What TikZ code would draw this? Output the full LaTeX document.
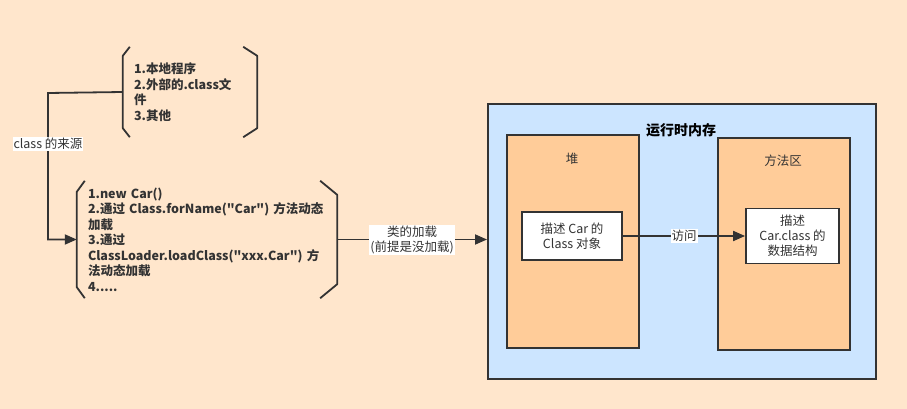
\documentclass[tikz,border=0pt]{standalone}
\usepackage{fontspec}
\setmainfont{Noto Sans CJK SC}[Ligatures=TeXOff]
\usetikzlibrary{arrows.meta}
\definecolor{bgpeach}{HTML}{FFE6CC}
\definecolor{memblue}{HTML}{CCE5FF}
\definecolor{areaor}{HTML}{FFCC99}
\definecolor{ink}{HTML}{333333}
\tikzset{
  brace/.style={inner xsep=11pt, inner ysep=0pt, align=left, anchor=center, font=\fontsize{12.5}{15.5}\selectfont\bfseries, text=ink},
  region/.style={draw=ink, line width=1.8pt},
  whitebox/.style={draw=ink, line width=1.8pt, fill=white, align=center, font=\fontsize{12.5}{15}\selectfont, text=ink},
  conn/.style={draw=ink, line width=1.8pt, -{Triangle[length=12pt,width=10pt]}},
  lbl/.style={fill=white, inner sep=1pt, font=\fontsize{12.5}{15}\selectfont, text=ink, align=center},
  bracket/.style={draw=ink, line width=1.8pt, line join=round},
}
\begin{document}
\begin{tikzpicture}[x=1pt,y=-1pt]
\fill[bgpeach] (0,0) rectangle (907,409);
\useasboundingbox (0,0) rectangle (907,409);
% memory region
\node[region, fill=memblue, minimum width=388pt, minimum height=275pt, anchor=north west, inner sep=0pt] (mem) at (487,103) {};
\node[font=\fontsize{14}{16}\selectfont\bfseries, text=black] (memt) at (681,130) {运行时内存};
\node[region, fill=areaor, minimum width=132pt, minimum height=213pt, anchor=north west, inner sep=0pt] (heap) at (506,134) {};
\node[font=\fontsize{12.5}{15}\selectfont, text=ink] (heapt) at (572,159) {堆};
\node[region, fill=areaor, minimum width=132pt, minimum height=212pt, anchor=north west, inner sep=0pt] (meth) at (717,137) {};
\node[font=\fontsize{12.5}{15}\selectfont, text=ink] (metht) at (783,161) {方法区};
\node[whitebox, minimum width=100pt, minimum height=48pt, inner sep=0pt] (hobj) at (572,236) {描述 Car 的\\Class 对象};
\node[whitebox, minimum width=93pt, minimum height=55pt, inner sep=0pt] (mobj) at (792.5,236) {描述\\Car.class 的\\数据结构};
\draw[conn] (hobj.east) -- node[lbl] (acc) {访问} (mobj.west);
% top brace
\node[brace, minimum width=134pt, minimum height=90pt, text width=112pt] (src) at (190,92) {1.本地程序\\2.外部的.class文\\件\\3.其他};
\draw[bracket] ([xshift=7pt]src.north west) -- ([yshift=-9pt]src.north west) -- ([yshift=9pt]src.south west) -- ([xshift=7pt]src.south west);
\draw[bracket] ([xshift=-14pt]src.north east) -- ([yshift=-9pt]src.north east) -- ([yshift=9pt]src.south east) -- ([xshift=-14pt]src.south east);
% bottom brace
\node[brace, minimum width=260pt, minimum height=117pt, text width=238pt] (ways) at (207,239.5) {1.new Car()\\2.通过 Class.forName("Car") 方法动态\\加载\\3.通过\\ClassLoader.loadClass("xxx.Car") 方\\法动态加载\\4.....};
\draw[bracket] ([xshift=8pt]ways.north west) -- ([yshift=-11pt]ways.north west) -- ([yshift=11pt]ways.south west) -- ([xshift=8pt]ways.south west);
\draw[bracket] ([xshift=-17pt]ways.north east) -- ([yshift=-14pt]ways.north east) -- ([yshift=14pt]ways.south east) -- ([xshift=-17pt]ways.south east);
% connectors
\coordinate (elbow) at (48,93);
\draw[conn] (src.west) -- (elbow) |- (ways.west);
\node[lbl] (srclbl) at (48,144) {class 的来源};
\draw[conn] (ways.east) -- node[lbl] (load) {类的加载\\(前提是没加载)} (ways.east -| mem.west);
\end{tikzpicture}
\end{document}
